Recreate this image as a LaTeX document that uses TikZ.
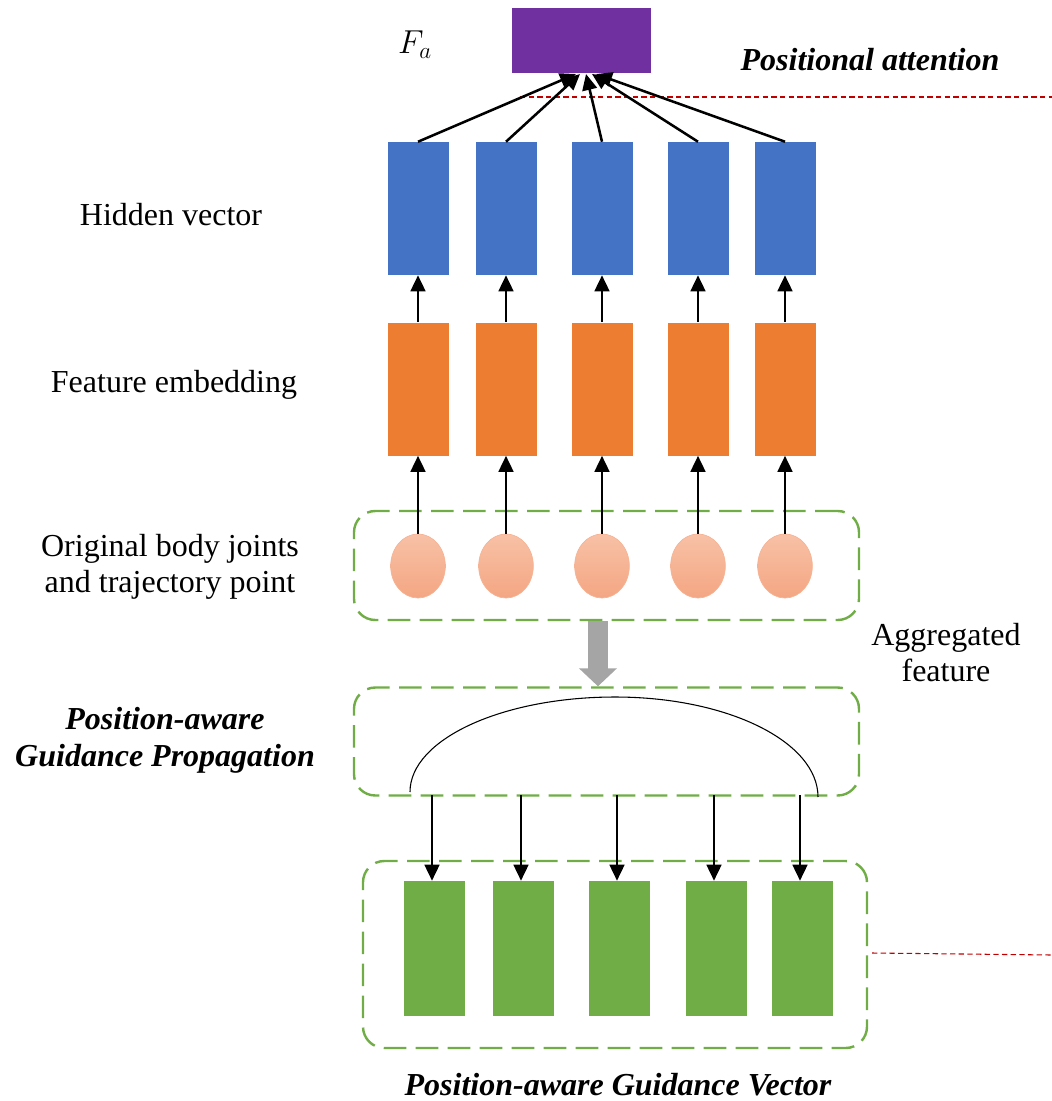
\documentclass[tikz,border=0pt]{standalone}
\usepackage{fontspec}
\setmainfont{Liberation Serif}
\usepackage{tikz}
\usetikzlibrary{arrows.meta,shapes.geometric}
\definecolor{hid}{HTML}{4472C4}
\definecolor{emb}{HTML}{ED7D31}
\definecolor{gvec}{HTML}{70AD47}
\definecolor{att}{HTML}{7030A0}
\definecolor{jtop}{HTML}{F8C1A6}
\definecolor{jmid}{HTML}{F6B394}
\definecolor{jbot}{HTML}{F4A683}
\definecolor{agg}{HTML}{A5A5A5}
\definecolor{sep}{HTML}{C00000}
\tikzset{
  lab/.style={font=\fontsize{24}{27}\selectfont, align=center},
  key/.style={font=\fontsize{24}{28}\selectfont\bfseries\itshape, align=center},
  vec/.style={minimum width=45.75pt, minimum height=99.75pt, inner sep=0pt},
  hidbox/.style={vec, fill=hid},
  embbox/.style={vec, fill=emb},
  gbox/.style={vec, fill=gvec, minimum height=101.25pt},
  joint/.style={ellipse, minimum width=41pt, minimum height=48pt, inner sep=0pt, top color=jtop, bottom color=jbot, draw=jmid, line width=0.5pt},
  group/.style={draw=gvec, line width=1.8pt, dash pattern=on 17pt off 7pt, rounded corners=16pt, inner sep=0pt},
  link/.style={line width=1.9pt, -{Triangle[length=12pt,width=11pt]}},
  sepline/.style={draw=sep, line width=0.8pt, dash pattern=on 4pt off 2.5pt}
}

\begin{document}
\begin{tikzpicture}[x=0.75pt, y=-0.75pt]
\useasboundingbox (0,0) rectangle (1052,1101);
% groups
\node[group, minimum width=378.75pt, minimum height=81.75pt] (grp1) at (606.5,565.5) {};
\node[group, minimum width=378.75pt, minimum height=81pt] (grp2) at (606.5,741.5) {};
\node[group, minimum width=378pt, minimum height=140.25pt] (grp3) at (615,954.5) {};
% attention output
\node[fill=att, minimum width=104.25pt, minimum height=48.75pt, inner sep=0pt] (fa) at (581.5,40.5) {};
\node[lab] (falab) at (415,45) {$F_a$};
\node[key] (attlab) at (870,60) {Positional attention};
\draw[sepline] (520,97) -- (1052,97);
\draw[sepline] (872,953) -- (1052,955);
% columns
\foreach \i/\x/\gx/\tx in {1/418/434/576,2/506/523/580,3/602/619/586,4/698/716/592,5/785/802/596} {
  \node[hidbox] (h\i) at (\x,208.5) {};
  \node[embbox] (e\i) at (\x,389) {};
  \node[joint] (j\i) at (\x,566) {};
  \node[gbox] (g\i) at (\gx,948.5) {};
  \coordinate (t\i) at (\tx,74);
  \coordinate (s\i) at (\gx-2,795);
  \draw[link] (j\i) -- (e\i);
  \draw[link] (e\i) -- (h\i);
  \draw[link] (h\i.north) -- (t\i);
  \draw[link] (s\i) -- (s\i |- g\i.north);
}
% aggregation
\draw[draw=agg, line width=15pt, -{Triangle[length=13.5pt,width=27.75pt]}] ([xshift=-6.4pt]grp1.south) -- ([xshift=-6.4pt]grp2.north);
\draw[line width=0.8pt] (410,792) .. controls (410,739.5) and (501.8,697) .. (615,697)
  .. controls (727.7,697) and (818,741.8) .. (818,797);
% labels
\node[lab] (hidlab) at (171,215) {Hidden vector};
\node[lab] (emblab) at (174,385) {Feature embedding};
\node[lab] (jlab) at (170,567) {Original body joints\\and trajectory point};
\node[lab] (agglab) at (946,653) {Aggregated\\feature};
\node[key] (proplab) at (165,740) {Position-aware\\Guidance Propagation};
\node[key] (veclab) at (618,1085) {Position-aware Guidance Vector};
\end{tikzpicture}
\end{document}
